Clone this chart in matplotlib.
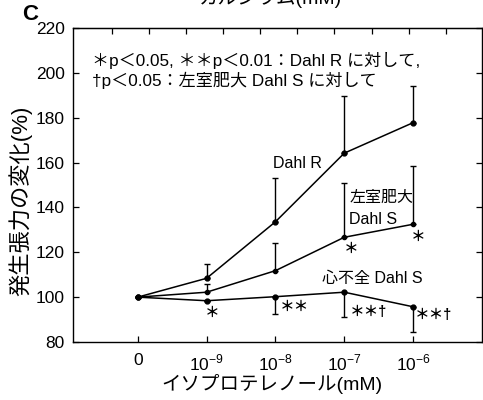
import matplotlib
matplotlib.use("Agg")
import matplotlib.pyplot as plt
import numpy as np

plt.rcParams['font.family'] = ['Liberation Sans', 'Noto Sans CJK JP', 'DejaVu Sans']
plt.rcParams['mathtext.fontset'] = 'custom'
plt.rcParams['mathtext.rm'] = 'Liberation Sans'

# Data
conc_labels = ['0', '$10^{-9}$', '$10^{-8}$', '$10^{-7}$', '$10^{-6}$']
dahl_r = [100, 108.4, 133.6, 164.2, 177.8]
dahl_r_err_up = [0, 6.4, 19.4, 25.6, 16.4]
lvh_s = [100, 102.2, 111.8, 126.7, 132.5]
lvh_s_err_up = [0, 3.5, 12.2, 24.3, 26.0]
hf_s = [100, 98.4, 100.2, 102.2, 95.7]
hf_s_err_dn = [0, 0, 7.7, 10.9, 11.1]
top_ticks = [-0.377, 0.162, 0.701, 1.24, 1.779, 2.318, 2.857, 3.396, 3.935, 4.474]

x = np.arange(len(conc_labels))
zeros = np.zeros(len(x))

fig = plt.figure(figsize=(4.83, 4.0), dpi=100)
ax = fig.add_axes([73 / 483, 1 - 342 / 400, (482 - 73) / 483, (342 - 28) / 400])

ax.errorbar(x, dahl_r, yerr=[zeros, dahl_r_err_up], color='black', lw=1.1,
            marker='o', ms=3.5, capsize=2, elinewidth=1.0, capthick=1.0)
ax.errorbar(x, lvh_s, yerr=[zeros, lvh_s_err_up], color='black', lw=1.1,
            marker='o', ms=3.0, capsize=2, elinewidth=1.0, capthick=1.0)
ax.errorbar(x, hf_s, yerr=[hf_s_err_dn, zeros], color='black', lw=1.1,
            marker='o', ms=3.5, capsize=2, elinewidth=1.0, capthick=1.0)

ax.set_xlim(-0.94, 5.0)
ax.set_ylim(80, 220)
ax.set_yticks(range(80, 221, 20))
ax.set_xticks(x)
ax.set_xticklabels(conc_labels)
ax.tick_params(direction='in', length=4, width=0.9, labelsize=12.5, pad=6)
ax.tick_params(axis='x', pad=8)
ax.tick_params(right=True, which='both')
for s in ax.spines.values():
    s.set_linewidth(1.0)

top = ax.secondary_xaxis('top')
top.set_xticks(top_ticks)
top.set_xticklabels([])
top.tick_params(direction='in', length=4, width=0.9)

fig.text(20 / 483, 1 - 201 / 400, '発生張力の変化(%)', fontsize=16, rotation=90,
         ha='center', va='center')
fig.text(272 / 483, 1 - 384 / 400, 'イソプロテレノール(mM)', fontsize=14,
         ha='center', va='center')

ax.text(0.047, 0.898, '＊p＜0.05, ＊＊p＜0.01：Dahl R に対して,', transform=ax.transAxes,
        fontsize=12.3, va='center', ha='left')
ax.text(0.047, 0.834, '†p＜0.05：左室肥大 Dahl S に対して', transform=ax.transAxes,
        fontsize=12.3, va='center', ha='left')

ax.text(1.96, 159.8, 'Dahl R', fontsize=11.5, va='center', ha='left')
ax.text(3.07, 144.6, '左室肥大', fontsize=11.5, va='center', ha='left')
ax.text(3.07, 134.4, 'Dahl S', fontsize=11.5, va='center', ha='left')
ax.text(2.67, 108.5, '心不全 Dahl S', fontsize=11.5, va='center', ha='left')

star_kw = dict(fontsize=10.5, va='center', ha='left', fontweight='bold')
ax.text(3.0, 121.5, '＊', **star_kw)
ax.text(3.97, 126.8, '＊', **star_kw)
ax.text(0.98, 92.9, '＊', **star_kw)
ax.text(2.07, 95.6, '＊＊', **star_kw)
ax.text(3.08, 93.4, '＊＊†', **star_kw)
ax.text(4.03, 92.0, '＊＊†', **star_kw)

fig.text(30 / 483, 1 - 14 / 400, 'C', fontsize=16, fontweight='bold', ha='center', va='center')
fig.text(270 / 483, 1 + 2 / 400, 'カルシウム(mM)', fontsize=14, ha='center', va='center')

fig.savefig('out.png', dpi=100)
